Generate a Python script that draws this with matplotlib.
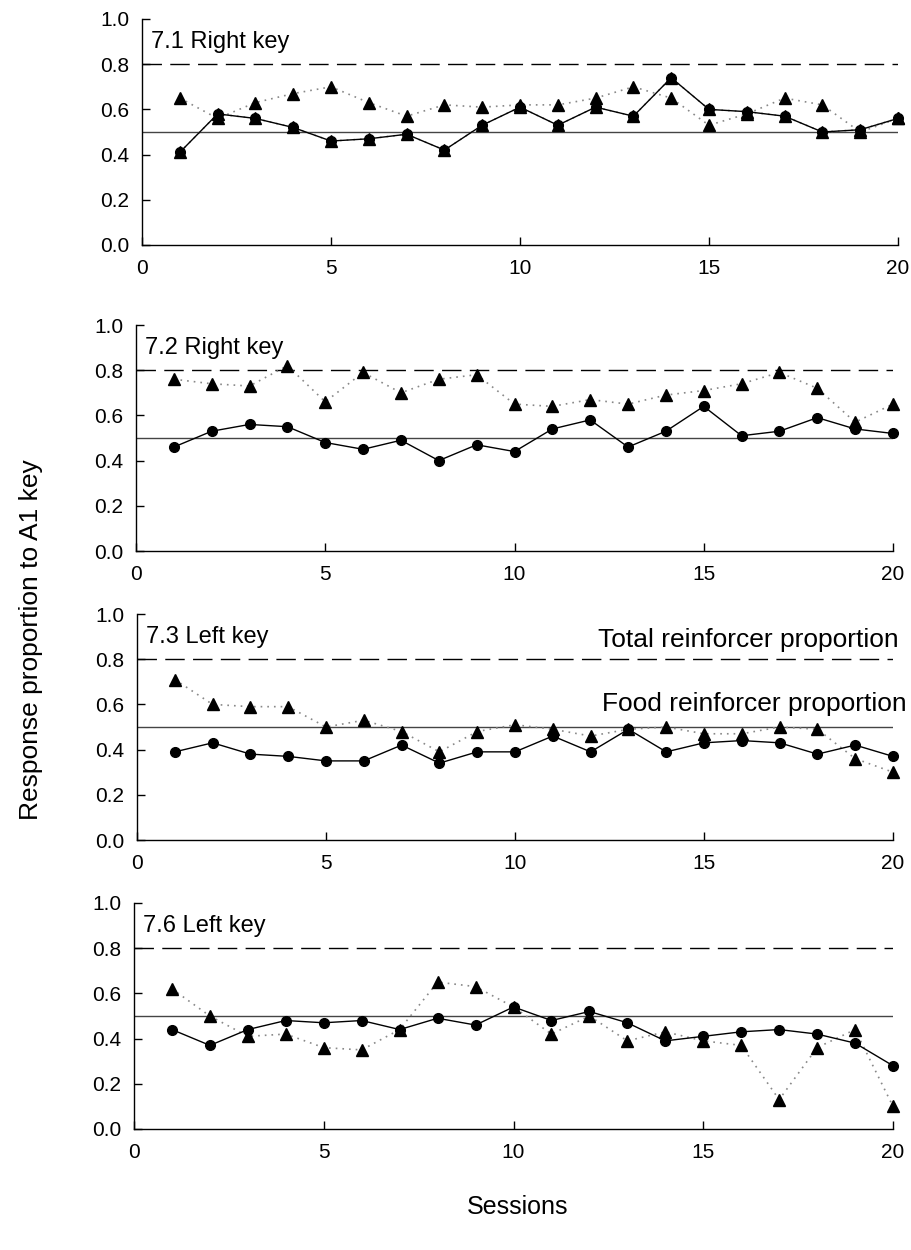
import matplotlib
matplotlib.use("Agg")
import matplotlib.pyplot as plt

plt.rcParams['font.family'] = ['Liberation Sans', 'DejaVu Sans']

sessions = list(range(1, 21))

titles = ["7.1 Right key", "7.2 Right key", "7.3 Left key", "7.6 Left key"]

# circles (solid line)
resp_71 = [0.41, 0.58, 0.56, 0.52, 0.46, 0.47, 0.49, 0.42, 0.53, 0.61,
           0.53, 0.61, 0.57, 0.74, 0.60, 0.59, 0.57, 0.50, 0.51, 0.56]
resp_72 = [0.46, 0.53, 0.56, 0.55, 0.48, 0.45, 0.49, 0.40, 0.47, 0.44,
           0.54, 0.58, 0.46, 0.53, 0.64, 0.51, 0.53, 0.59, 0.54, 0.52]
resp_73 = [0.39, 0.43, 0.38, 0.37, 0.35, 0.35, 0.42, 0.34, 0.39, 0.39,
           0.46, 0.39, 0.49, 0.39, 0.43, 0.44, 0.43, 0.38, 0.42, 0.37]
resp_76 = [0.44, 0.37, 0.44, 0.48, 0.47, 0.48, 0.44, 0.49, 0.46, 0.54,
           0.48, 0.52, 0.47, 0.39, 0.41, 0.43, 0.44, 0.42, 0.38, 0.28]

# triangles (dotted line)
tri_71 = [0.65, 0.56, 0.63, 0.67, 0.70, 0.63, 0.57, 0.62, 0.61, 0.62,
          0.62, 0.65, 0.70, 0.65, 0.53, 0.58, 0.65, 0.62, 0.50, 0.56]
tri_72 = [0.76, 0.74, 0.73, 0.82, 0.66, 0.79, 0.70, 0.76, 0.78, 0.65,
          0.64, 0.67, 0.65, 0.69, 0.71, 0.74, 0.79, 0.72, 0.57, 0.65]
tri_73 = [0.71, 0.60, 0.59, 0.59, 0.50, 0.53, 0.48, 0.39, 0.48, 0.51,
          0.49, 0.46, 0.49, 0.50, 0.47, 0.47, 0.50, 0.49, 0.36, 0.30]
tri_76 = [0.62, 0.50, 0.41, 0.42, 0.36, 0.35, 0.44, 0.65, 0.63, 0.54,
          0.42, 0.50, 0.39, 0.43, 0.39, 0.37, 0.13, 0.36, 0.44, 0.10]

# panel 7.1 also shows triangles overlaid on the circle series
tri_71_b = resp_71

resp_all = [resp_71, resp_72, resp_73, resp_76]
tri_all = [tri_71, tri_72, tri_73, tri_76]

total_prop = 0.8
food_prop = 0.5

xticks = [0, 5, 10, 15, 20]
yticks = [0.0, 0.2, 0.4, 0.6, 0.8, 1.0]

W, H = 912, 1250
fig = plt.figure(figsize=(W / 100, H / 100), dpi=100)

lefts = [142, 136, 137, 134]
rights = [898, 893, 893, 893]
tops = [19, 325, 614, 903]
height_px = 226

axes = []
for i in range(4):
    ax = fig.add_axes([lefts[i] / W, 1 - (tops[i] + height_px) / H,
                       (rights[i] - lefts[i]) / W, height_px / H])
    axes.append(ax)

dotted = (0, (1, 3))
for i, ax in enumerate(axes):
    ax.axhline(total_prop, color='black', lw=1.0, ls=(0, (14, 6)), zorder=1)
    ax.axhline(food_prop, color='#444444', lw=1.0, zorder=1)
    if i == 0:
        ax.plot(sessions, tri_71_b, color='#888888', lw=1.2, ls=dotted,
                marker='^', ms=8, mfc='black', mec='black', zorder=2,
                clip_on=False)
    ax.plot(sessions, tri_all[i], color='#888888', lw=1.2, ls=dotted,
            marker='^', ms=8, mfc='black', mec='black', zorder=3,
            clip_on=False)
    ax.plot(sessions, resp_all[i], color='black', lw=1.0, ls='-',
            marker='o', ms=7, mfc='black', mec='black', zorder=4,
            clip_on=False)
    ax.set_xlim(0, 20)
    ax.set_ylim(0, 1.0)
    ax.set_xticks(xticks)
    ax.set_yticks(yticks)
    ax.set_yticklabels([f"{v:.1f}" for v in yticks])
    ax.tick_params(direction='in', length=6, width=1, labelsize=15)
    ax.tick_params(axis='y', pad=9)
    ax.tick_params(axis='x', pad=10)
    for s in ['top', 'right']:
        ax.spines[s].set_visible(False)
    for s in ['left', 'bottom']:
        ax.spines[s].set_linewidth(1.0)
    ax.text(0.25, 0.90, titles[i], transform=ax.transData, ha='left',
            va='center', fontsize=17)

axes[2].text(20.15, 0.885, "Total reinforcer proportion", ha='right',
             va='center', fontsize=19)
axes[2].text(20.35, 0.60, "Food reinforcer proportion", ha='right',
             va='center', fontsize=19)

fig.text(31 / W, 1 - 640 / H, "Response proportion to A1 key", rotation=90,
         ha='center', va='center', fontsize=19)
fig.text(518 / W, 1 - 1207 / H, "Sessions", ha='center', va='center',
         fontsize=18)

fig.savefig("out.png", dpi=100)
